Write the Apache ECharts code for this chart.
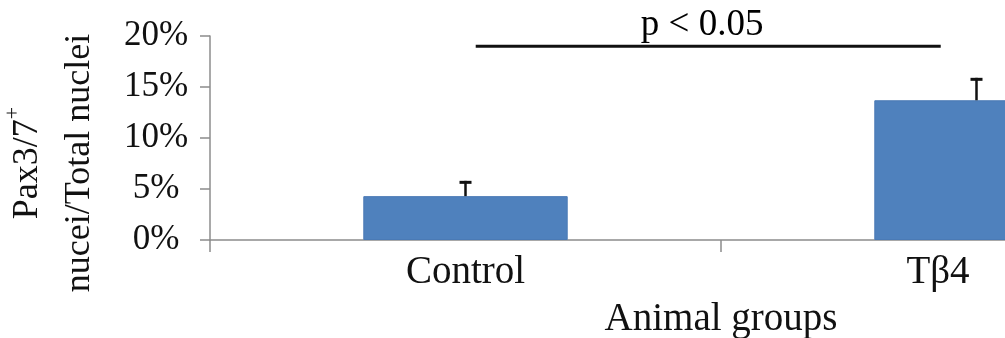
<!DOCTYPE html>
<html>
<head>
<meta charset="utf-8">
<script src="https://cdn.jsdelivr.net/npm/echarts@6/dist/echarts.min.js"></script>
<style>
html,body{margin:0;padding:0;background:#fff;}
#chart{width:1005px;height:338px;}
</style>
</head>
<body>
<div id="chart"></div>
<script>
// ---- data ----
var categories = ['Control', 'Tβ4'];
var meanValues = [4.3, 13.7];          // % of total nuclei
var errorValues = [1.5, 2.2];          // upper error (SD), %
var yTicks = [0, 5, 10, 15, 20];       // %
var sigLineX = [0.52, 1.43];           // significance bar extent (group-position units)
var sigLineY = 19;                     // % level of significance bar
var sigTextX = 0.963;
var sigText = 'p < 0.05';

var FONT = 'Liberation Serif';
var chart = echarts.init(document.getElementById('chart'), null, {renderer: 'canvas'});

var errData = categories.map(function (c, i) {
  return [i, meanValues[i], meanValues[i] + errorValues[i]];
});

var option = {
  backgroundColor: '#ffffff',
  animation: false,
  grid: {left: 210, top: 36, width: 1022, height: 204, containLabel: false, outerBoundsMode: 'none'},
  xAxis: [{
    type: 'category',
    data: categories,
    boundaryGap: true,
    name: 'Animal groups',
    nameLocation: 'middle',
    nameGap: 60,
    nameTextStyle: {fontFamily: FONT, fontSize: 39, color: '#111'},
    axisLine: {lineStyle: {color: '#8c8c8c', width: 1.5}},
    axisTick: {show: true, length: 12, alignWithLabel: false, lineStyle: {color: '#8c8c8c', width: 1.5}},
    axisLabel: {
      fontFamily: FONT, fontSize: 39, color: '#111', margin: 13,
      formatter: function (v, i) { return i === categories.length - 1 ? '{s|' + v + '}' : v; },
      rich: {s: {fontFamily: FONT, fontSize: 39, color: '#111', padding: [0, 77, 0, 0]}}
    },
    splitLine: {show: false}
  }, {
    type: 'value', min: 0, max: 2, show: false, position: 'bottom'
  }],
  yAxis: {
    type: 'value',
    min: yTicks[0], max: yTicks[yTicks.length - 1], interval: yTicks[1] - yTicks[0],
    name: '{a|Pax3/7}{s|+}\n{a|nucei/Total nuclei}',
    nameLocation: 'middle',
    nameRotate: 90,
    nameGap: 104,
    nameTextStyle: {
      fontFamily: FONT, fontSize: 36, color: '#111', padding: [0, 50, 0, 0],
      rich: {
        a: {fontFamily: FONT, fontSize: 36, color: '#111', lineHeight: 52},
        s: {fontFamily: FONT, fontSize: 22, color: '#111', lineHeight: 52, verticalAlign: 'top'}
      }
    },
    axisLine: {show: true, lineStyle: {color: '#8c8c8c', width: 1.5}},
    axisTick: {show: true, length: 10, lineStyle: {color: '#8c8c8c', width: 1.5}},
    axisLabel: {
      fontFamily: FONT, fontSize: 35, color: '#111', margin: 54, align: 'center',
      formatter: '{value}%'
    },
    splitLine: {show: false}
  },
  series: [{
    type: 'bar',
    data: meanValues,
    barWidth: '40%',
    itemStyle: {color: '#4f81bd', borderColor: '#4a7ab5', borderWidth: 1},
    z: 2
  }, {
    type: 'custom',
    data: errData,
    z: 3,
    renderItem: function (params, api) {
      var base = api.coord([api.value(0), api.value(1)]);
      var top = api.coord([api.value(0), api.value(2)]);
      var half = 6;
      return {
        type: 'group',
        children: [{
          type: 'line',
          shape: {x1: base[0], y1: base[1], x2: top[0], y2: top[1]},
          style: {stroke: '#111', lineWidth: 2.5}
        }, {
          type: 'line',
          shape: {x1: top[0] - half, y1: top[1] + 1.5, x2: top[0] + half, y2: top[1] + 1.5},
          style: {stroke: '#111', lineWidth: 3}
        }]
      };
    }
  }, {
    type: 'line',
    xAxisIndex: 1,
    data: [[sigLineX[0], sigLineY], [sigLineX[1], sigLineY]],
    symbol: 'none',
    lineStyle: {color: '#111', width: 3},
    z: 4
  }, {
    type: 'scatter',
    xAxisIndex: 1,
    data: [[sigTextX, sigLineY]],
    symbol: 'circle',
    symbolSize: 0,
    itemStyle: {color: '#111', opacity: 1},
    label: {
      show: true, position: 'top', distance: 2,
      fontFamily: FONT, fontSize: 37, color: '#000', opacity: 1,
      formatter: function () { return sigText; }
    },
    z: 5
  }]
};
chart.setOption(option);
</script>
</body>
</html>
